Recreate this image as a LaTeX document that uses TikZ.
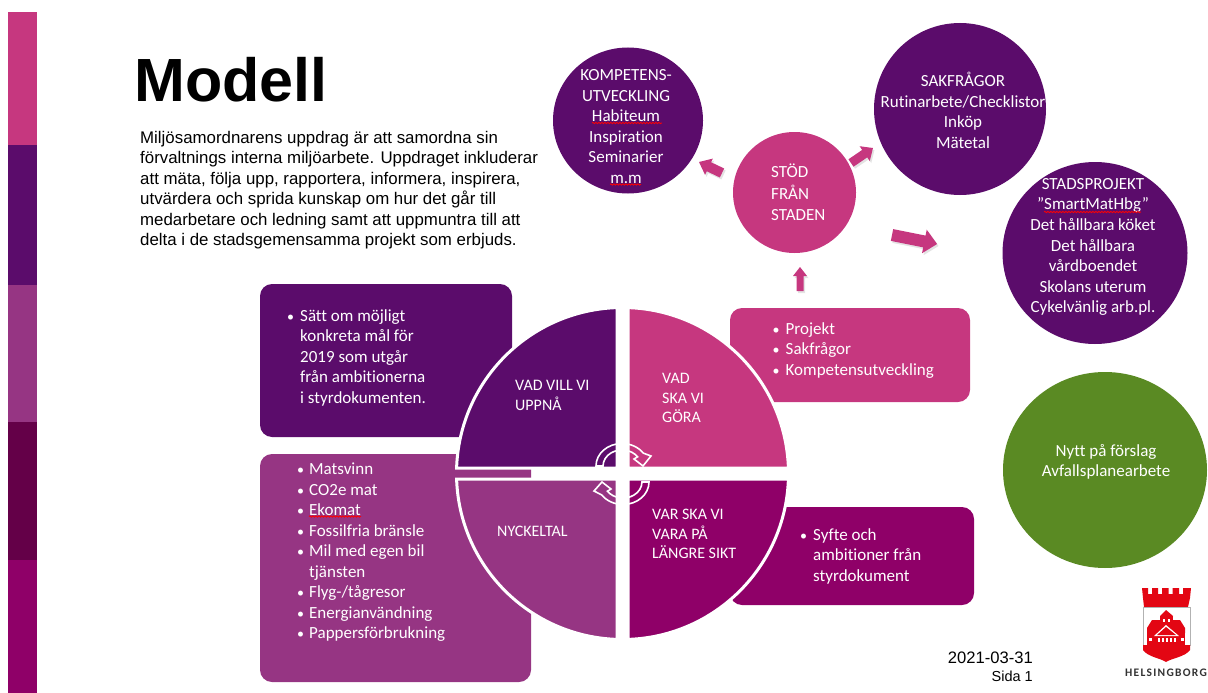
\documentclass[tikz,border=0pt]{standalone}
\usepackage{fontspec}
\setmainfont{Carlito}[Ligatures=NoCommon]
\newfontfamily\arialf{Liberation Sans}
\usetikzlibrary{decorations.pathmorphing}
\definecolor{cpink}{HTML}{C6377F}
\definecolor{cpurple}{HTML}{5B0C6B}
\definecolor{cviolet}{HTML}{963583}
\definecolor{cmag}{HTML}{8F0068}
\definecolor{cdeep}{HTML}{640048}
\definecolor{cgreen}{HTML}{5A8A23}
\definecolor{cred}{HTML}{E30613}
\tikzset{
  panel/.style={rounded corners=12pt},
  wedge/.style={draw=white,line width=3pt},
  lbl/.style={text=white,inner sep=0pt,align=left,anchor=north west,font=\fontsize{17}{20.5}\selectfont},
  wlbl/.style={text=white,inner sep=0pt,align=left,anchor=north west,font=\fontsize{16}{19.7}\selectfont},
  clbl/.style={text=white,inner sep=0pt,align=center,font=\fontsize{17}{20.6}\selectfont},
  wavy/.style={draw=red,line width=.8pt,decorate,decoration={snake,amplitude=.7pt,segment length=3pt}},
  loopar/.style={draw=white,line width=1.6pt,line join=miter}
}
\newcommand{\bul}{\makebox[14pt][l]{\hspace*{1pt}\fontsize{14}{14}\selectfont •}}
\newcommand{\bulb}{\makebox[12pt][l]{\fontsize{14}{14}\selectfont •}}
% tail x, tail y, angle, length, shaft width, head width, head length
\newcommand{\blockar}[7]{%
  \fill[gray,opacity=.22,shift={(#1+1.5,#2+2)},rotate=#3] (0,-#5/2) -- (#4-#7,-#5/2) -- (#4-#7,-#6/2) -- (#4,0) -- (#4-#7,#6/2) -- (#4-#7,#5/2) -- (0,#5/2) -- cycle;
  \fill[cpink,shift={(#1,#2)},rotate=#3] (0,-#5/2) -- (#4-#7,-#5/2) -- (#4-#7,-#6/2) -- (#4,0) -- (#4-#7,#6/2) -- (#4-#7,#5/2) -- (0,#5/2) -- cycle;}
\begin{document}
\begin{tikzpicture}[x=1pt,y=-1pt]
\useasboundingbox (0,0) rectangle (1208,693);
% side strip
\fill[cpink] (8,12) rectangle (37,145);
\fill[cpurple] (8,145) rectangle (37,285);
\fill[cviolet] (8,285) rectangle (37,422);
\fill[cdeep] (8,422) rectangle (37,560);
\fill[cmag] (8,560) rectangle (37,693);
% title and intro
\node[anchor=base west,inner sep=0pt,font=\arialf\bfseries\fontsize{61}{61}\selectfont] (title) at (134,101) {Modell};
\node[anchor=north west,inner sep=0pt,align=left,font=\arialf\fontsize{16.85}{20.4}\selectfont] (intro) at (140,131) {Miljösamordnarens uppdrag är att samordna sin\\förvaltnings interna miljöarbete. Uppdraget inkluderar\\att mäta, följa upp, rapportera, informera, inspirera,\\utvärdera och sprida kunskap om hur det går till\\medarbetare och ledning samt att uppmuntra till att\\delta i de stadsgemensamma projekt som erbjuds.};
% panels
\fill[cpurple,panel] (260,284) rectangle (512,437);
\fill[cviolet,panel] (260,454) rectangle (531,682);
\fill[cpink,panel] (730,308) rectangle (970,402);
\fill[cmag,panel] (730,507) rectangle (974,605);
% wedges
\path[fill=cpurple,wedge] (617,468) -- (456.6,468) arc[start angle=181.9,end angle=268.1,radius=166] -- cycle;
\path[fill=cpink,wedge] (628,468) -- (628,307.6) arc[start angle=271.9,end angle=358.1,radius=166] -- cycle;
\path[fill=cviolet,wedge] (617,479) -- (617,639.4) arc[start angle=91.9,end angle=178.1,radius=166] -- cycle;
\path[fill=cmag,wedge] (628,479) -- (788.4,479) arc[start angle=1.9,end angle=88.1,radius=166] -- cycle;
% centre loop arrows
\draw[loopar] (596,466) arc[start angle=180,end angle=325,x radius=26,y radius=22.5] -- (651,456) -- (643,466) -- (634,459) -- (637.6,456.8) arc[start angle=325,end angle=180,x radius=19,y radius=16] -- cycle;
\draw[loopar] (649,482) arc[start angle=0,end angle=145,x radius=26,y radius=22.5] -- (594,491) -- (602,482) -- (611,489) -- (607.4,491.2) arc[start angle=145,end angle=0,x radius=19,y radius=16] -- cycle;
% panel text
\node[lbl] (p1) at (286,309) {\bul Sätt om möjligt\\\hspace*{14pt}konkreta mål för\\\hspace*{14pt}2019 som utgår\\\hspace*{14pt}från ambitionerna\\\hspace*{14pt}i styrdokumenten.};
\node[lbl] (p2) at (297,463) {\bulb Matsvinn\\\bulb CO2e mat\\\bulb Ekomat\\\bulb Fossilfria bränsle\\\bulb Mil med egen bil\\\hspace*{12pt}tjänsten\\\bulb Flyg-/tågresor\\\bulb Energianvändning\\\bulb Pappersförbrukning};
\node[lbl] (p3) at (771.5,322) {\bul Projekt\\\bul Sakfrågor\\\bul Kompetensutveckling};
\node[lbl] (p4) at (799,528) {\bul Syfte och\\\hspace*{14pt}ambitioner från\\\hspace*{14pt}styrdokument};
\draw[wavy] (309,516.5) -- (361,516.5);
% wedge text
\node[wlbl] (w1) at (515,380) {VAD VILL VI\\UPPNÅ};
\node[wlbl] (w2) at (662,373) {VAD\\SKA VI\\GÖRA};
\node[wlbl] (w3) at (497,526) {NYCKELTAL};
\node[wlbl] (w4) at (652,509) {VAR SKA VI\\VARA PÅ\\LÄNGRE SIKT};
% circles
\fill[cpurple] (628,120.5) ellipse[x radius=75,y radius=73];
\fill[cpink] (794.5,192.5) ellipse[x radius=61.5,y radius=60.5];
\fill[cpurple] (960,109) ellipse[x radius=86,y radius=86];
\fill[cpurple] (1095,253) ellipse[x radius=92.5,y radius=91];
\fill[cgreen] (1105,470) ellipse[x radius=102,y radius=98];
\node[clbl] (c1) at (626,126.5) {KOMPETENS-\\UTVECKLING\\Habiteum\\Inspiration\\Seminarier\\m.m};
\draw[wavy] (592,123) -- (662,123);
\draw[wavy] (610,184.5) -- (641,184.5);
\node[clbl,align=left,anchor=north west,font=\fontsize{17}{21.3}\selectfont] (c2) at (771,164) {STÖD\\FRÅN\\STADEN};
\node[clbl] (c3) at (963,110.5) {SAKFRÅGOR\\Rutinarbete/Checklistor\\Inköp\\Mätetal};
\node[clbl] (c4) at (1093,247) {STADSPROJEKT\\”SmartMatHbg”\\Det hållbara köket\\Det hållbara\\vårdboendet\\Skolans uterum\\Cykelvänlig arb.pl.};
\draw[wavy] (1044,212) -- (1141,212);
\node[clbl] (c5) at (1106,462) {Nytt på förslag\\Avfallsplanearbete};
% block arrows
\blockar{722}{173}{154.4}{25.5}{10}{18}{11}
\blockar{851}{163}{34.3}{26.6}{9}{18}{10}
\blockar{892}{235}{-11.3}{46}{12}{24}{13}
\blockar{800}{291}{90}{24}{7}{14}{9}
% date
\node[anchor=base east,inner sep=0pt,font=\arialf\fontsize{16.6}{20}\selectfont] (d1) at (1033,663) {2021-03-31};
\node[anchor=base east,inner sep=0pt,font=\arialf\fontsize{14.5}{18}\selectfont] (d2) at (1033,681) {Sida 1};
% logo
\fill[cred] (1142,588) -- (1148,588) -- (1148,594) -- (1152,594) -- (1152,588) -- (1158,588) -- (1158,594) -- (1162,594) -- (1162,588) -- (1168.5,588) -- (1168.5,594) -- (1172.5,594) -- (1172.5,588) -- (1179,588) -- (1179,594) -- (1183,594) -- (1183,588) -- (1191,588) -- (1190,598) -- (1188,607) -- (1144,607) -- (1143,598) -- cycle;
\fill[white,draw=gray!60,line width=.5pt] (1143,607) rectangle (1190,645);
\fill[cred] (1143,645) -- (1190,645) -- (1190,650) .. controls (1185,657) and (1172,658) .. (1166,662) .. controls (1160,658) and (1148,657) .. (1143,650) -- cycle;
\fill[cred] (1147,633) rectangle (1185,648);
\fill[cred] (1147,628) -- (1152,620) -- (1180,620) -- (1185,628) -- (1185,633) -- (1147,633) -- cycle;
\fill[cred] (1160,616) rectangle (1173,627);
\fill[cred] (1160,616) -- (1166,610) -- (1173,616) -- cycle;
\fill[white] (1154,636) -- (1166,625) -- (1179,636) -- cycle;
\fill[cred] (1157,635) -- (1166,627) -- (1176,635) -- cycle;
\foreach \i in {0,1,2,3,4} {\fill[white] (1157.5+\i*4,638) rectangle +(2,4);}
\fill[white] (1149,638) rectangle +(3,3);
\fill[white] (1181,638) rectangle +(3,3);
\fill[white] (1163,619) rectangle +(2,3);
\fill[white] (1168,619) rectangle +(2,3);
\node[anchor=base,inner sep=0pt,font=\fontsize{11.5}{12}\bfseries\selectfont,text=black!80] (logo) at (1166,676) {\addfontfeature{LetterSpace=11}HELSINGBORG};
\end{tikzpicture}
\end{document}
